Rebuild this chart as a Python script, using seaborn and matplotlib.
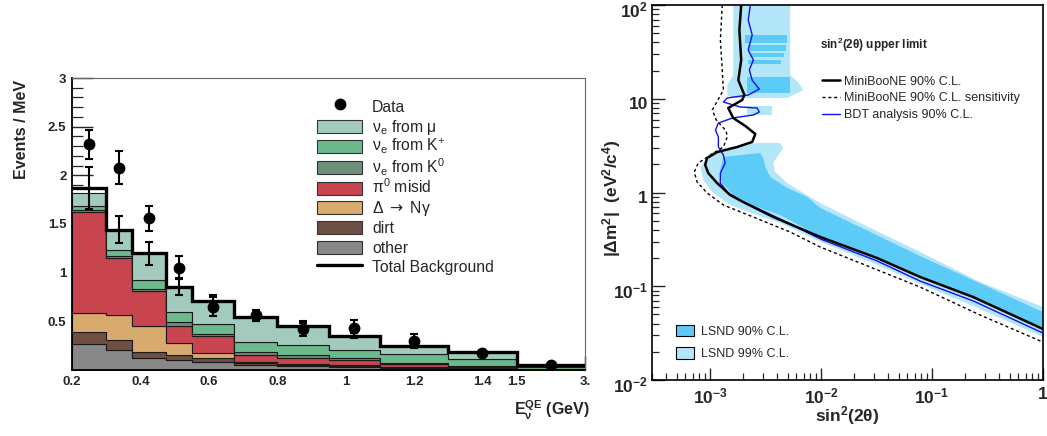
import numpy as np
import pandas as pd
import matplotlib
matplotlib.use("Agg")
import matplotlib.pyplot as plt
import matplotlib.transforms as mtransforms
import seaborn as sns
from matplotlib.lines import Line2D
from matplotlib.patches import Patch, Rectangle
from matplotlib.legend_handler import HandlerPatch
from matplotlib.ticker import FixedLocator, LogLocator, NullFormatter

sns.set_style("ticks")
plt.rcParams['font.family'] = ['Liberation Sans', 'DejaVu Sans']
plt.rcParams['mathtext.fontset'] = 'custom'
plt.rcParams['mathtext.rm'] = 'Liberation Sans'
plt.rcParams['mathtext.it'] = 'Liberation Sans:italic'
plt.rcParams['mathtext.bf'] = 'Liberation Sans:bold'
plt.rcParams['mathtext.sf'] = 'DejaVu Sans'

# ---------------- left panel data ----------------
bin_edges = [0.2, 0.3, 0.375, 0.475, 0.55, 0.675, 0.8, 0.95, 1.1, 1.3, 1.5, 3.0]
data_vals = [2.32, 2.08, 1.56, 1.05, 0.65, 0.56, 0.425, 0.43, 0.30, 0.17, 0.054]
data_err = [0.15, 0.165, 0.13, 0.12, 0.10, 0.06, 0.08, 0.08, 0.07, 0.04, 0.015]
bkg_total = [1.87, 1.44, 1.20, 0.857, 0.713, 0.54, 0.452, 0.353, 0.25, 0.18, 0.05]
bkg_err = [0.215, 0.14, 0.12, 0.09, 0.06, 0.04, 0.03, 0.025, 0.02, 0.015, 0.005]

nue_mu = [0.14, 0.21, 0.28, 0.257, 0.243, 0.25, 0.192, 0.143, 0.083, 0.064, 0.010]
nue_kplus = [0.034, 0.06, 0.09, 0.11, 0.10, 0.11, 0.11, 0.085, 0.099, 0.076, 0.023]
nue_k0 = [0.026, 0.02, 0.017, 0.034, 0.02, 0.026, 0.03, 0.025, 0.010, 0.010, 0.004]
pi0_misid = [1.037, 0.584, 0.36, 0.175, 0.172, 0.068, 0.06, 0.052, 0.023, 0.010, 0.003]
delta_ngamma = [0.189, 0.256, 0.264, 0.127, 0.051, 0.017, 0.01, 0.006, 0.005, 0.002, 0.001]
dirt = [0.127, 0.104, 0.062, 0.051, 0.041, 0.019, 0.01, 0.007, 0.005, 0.003, 0.001]
other = [0.267, 0.206, 0.127, 0.103, 0.086, 0.05, 0.04, 0.035, 0.025, 0.015, 0.003]

comp_labels = [r"$\mathregular{\nu_e}$ from $\mathregular{\mu}$",
               r"$\mathregular{\nu_e}$ from $\mathregular{K^{+}}$",
               r"$\mathregular{\nu_e}$ from $\mathregular{K^{0}}$",
               r"$\mathregular{\pi^{0}}$ misid",
               r"Δ $\mathsf{\rightarrow}$ Nγ", "dirt", "other"]
comp_values = [nue_mu, nue_kplus, nue_k0, pi0_misid, delta_ngamma, dirt, other]
comp_colors = ["#a3cbbd", "#6cb98d", "#6e8f7a", "#c8444f", "#d8aa6e", "#6e4f41", "#888888"]

left_xticks = [0.2, 0.4, 0.6, 0.8, 1.0, 1.2, 1.4, 1.5, 3.0]
left_xticklabels = ["0.2", "0.4", "0.6", "0.8", "1", "1.2", "1.4", "1.5", "3."]
left_yticks = [0.5, 1.0, 1.5, 2.0, 2.5, 3.0]
left_yticklabels = ["0.5", "1", "1.5", "2", "2.5", "3"]

# ---------------- right panel data ----------------
mb_x = [1.91e-3, 1.84e-3, 1.91e-3, 1.80e-3, 2.04e-3, 1.95e-3, 1.46e-3, 1.62e-3, 2.08e-3, 2.56e-3,
        2.40e-3, 1.76e-3, 1.16e-3, 9.4e-4, 9.05e-4, 9.65e-4, 1.16e-3, 1.52e-3, 2.0e-3, 3.72e-3,
        0.0099, 0.0321, 0.0783, 0.2355, 1.0]
mb_y = [100, 54, 25.9, 15.8, 11.0, 9.7, 7.97, 6.23, 5.13, 4.21,
        3.46, 3.06, 2.70, 2.33, 1.97, 1.61, 1.26, 0.94, 0.79, 0.548,
        0.335, 0.2, 0.1256, 0.0767, 0.035]

sens_x = [1.29e-3, 1.24e-3, 1.29e-3, 1.32e-3, 1.19e-3, 1.05e-3, 1.14e-3, 1.40e-3, 1.43e-3, 1.32e-3,
          1.01e-3, 7.83e-4, 7.21e-4, 7.67e-4, 9.4e-4, 1.32e-3, 2.45e-3, 5.28e-3, 9.86e-3, 0.0783,
          0.272, 1.0]
sens_y = [100, 42.4, 20.3, 12.4, 9.9, 7.59, 5.93, 4.53, 3.91, 3.06,
          2.51, 2.06, 1.65, 1.29, 0.99, 0.736, 0.548, 0.379, 0.262, 0.098,
          0.0493, 0.0254]

bdt_x = [2.31e-3, 2.21e-3, 2.40e-3, 2.21e-3, 2.46e-3, 2.26e-3, 2.40e-3, 2.78e-3, 2.21e-3, 1.43e-3,
         1.32e-3, 1.87e-3, 2.67e-3, 2.78e-3, 2.46e-3, 1.59e-3, 1.19e-3, 1.12e-3, 1.19e-3, 1.19e-3,
         1.32e-3, 1.37e-3, 1.24e-3, 1.24e-3, 1.46e-3, 1.95e-3, 4.3e-3, 0.0099, 0.0321, 0.0783,
         0.2355, 1.0]
bdt_y = [100, 69.2, 47.9, 33.1, 25.9, 20.3, 15.8, 12.7, 10.96, 10.2,
         9.23, 8.17, 7.96, 7.22, 6.71, 6.23, 5.51, 4.64, 3.91, 3.06,
         2.51, 2.06, 1.61, 1.26, 0.99, 0.81, 0.521, 0.319, 0.186, 0.1137,
         0.0697, 0.0317]

lsnd99_x = [8.2e-4, 1.0e-3, 1.52e-3, 2.67e-3, 4.3e-3, 4.57e-3, 4.12e-3, 3.72e-3, 3.87e-3, 4.97e-3,
            6.92e-3, 9.86e-3, 0.0278, 0.0783, 0.272, 1.0, 1.0, 0.2355, 0.0834, 0.0321,
            0.0105, 4.3e-3, 2.67e-3, 1.52e-3, 1.07e-3, 8.7e-4]
lsnd99_y = [1.87, 2.64, 3.05, 3.37, 3.37, 2.98, 2.51, 2.07, 1.66, 1.26,
            0.989, 0.773, 0.418, 0.232, 0.111, 0.0601, 0.0288, 0.0615, 0.103, 0.169,
            0.289, 0.473, 0.575, 0.736, 0.989, 1.36]

lsnd90_x = [1.32e-3, 1.87e-3, 2.84e-3, 3.02e-3, 3.15e-3, 3.49e-3, 4.97e-3, 7.52e-3, 9.86e-3, 0.0783,
            1.0, 1.0, 0.2355, 0.0834, 0.0321, 0.0105, 4.3e-3, 2.67e-3, 1.62e-3, 1.29e-3, 1.238e-3]
lsnd90_y = [2.39, 2.51, 2.64, 2.33, 1.87, 1.46, 1.12, 0.895, 0.684, 0.21,
            0.0531, 0.0345, 0.075, 0.1225, 0.195, 0.327, 0.575, 0.70, 0.94, 1.26, 1.74]

lsnd99_hi_x = [1.62e-3, 5.28e-3, 5.28e-3, 6.24e-3, 6.92e-3, 5.0e-3, 1.62e-3, 1.43e-3, 1.43e-3, 1.62e-3]
lsnd99_hi_y = [100, 100, 17.9, 15.0, 12.4, 10.2, 10.2, 11.0, 14.0, 17.9]

lsnd99_patch_x = [2.17e-3, 3.64e-3]
lsnd99_patch_y = [6.71, 8.37]

stripe_ylo = [39.3, 32.3, 27.9, 23.5, 11.5]
stripe_yhi = [47.9, 37.4, 30.8, 25.9, 17.1]
stripe_xlo = [2.08e-3, 2.2e-3, 2.3e-3, 2.2e-3, 2.14e-3]
stripe_xhi = [4.97e-3, 4.8e-3, 4.6e-3, 4.4e-3, 5.28e-3]

right_xticks = [1e-3, 1e-2, 1e-1, 1.0]
right_xticklabels = [r"10$^\mathregular{-3}$", r"10$^\mathregular{-2}$", r"10$^\mathregular{-1}$", "1"]
right_yticks = [1e-2, 1e-1, 1.0, 10.0, 100.0]
right_yticklabels = [r"10$^\mathregular{-2}$", r"10$^\mathregular{-1}$", "1", "10", r"10$^\mathregular{2}$"]

LSND90_COLOR = "#5ccbf8"
LSND99_COLOR = "#b3e6f8"

# ---------------- figure ----------------
fig = plt.figure(figsize=(10.47, 4.36), dpi=100)
ax1 = fig.add_axes([0.0688, 0.1514, 0.49, 0.6697])
ax2 = fig.add_axes([0.6227, 0.1284, 0.3734, 0.8601])

# ======== left panel ========
edges = np.array(bin_edges)
centers = 0.5 * (edges[:-1] + edges[1:])
rows = []
for lab, vals in zip(comp_labels, comp_values):
    for c, v in zip(centers, vals):
        rows.append((c, v, lab))
df = pd.DataFrame(rows, columns=["E", "w", "comp"])
sns.histplot(data=df, x="E", weights="w", hue="comp", hue_order=comp_labels,
             palette=dict(zip(comp_labels, comp_colors)), bins=bin_edges,
             multiple="stack", element="step", fill=True, alpha=1,
             edgecolor="#1a1a1a", linewidth=0.8, legend=False, ax=ax1)
ax1.stairs(bkg_total, bin_edges, color="k", lw=2.4, baseline=None, zorder=5)
ax1.errorbar(centers, bkg_total, yerr=bkg_err, fmt="none", ecolor="k",
             elinewidth=1.5, capsize=3, capthick=1.5, zorder=6)
ax1.errorbar(centers, data_vals, yerr=data_err, fmt="o", color="k", ms=7.5,
             elinewidth=1.5, capsize=3, capthick=1.5, zorder=7)


def _fwd(x):
    x = np.asarray(x, dtype=float)
    return np.where(x <= 1.5, x, 1.5 + (x - 1.5) * (0.2 / 1.5))


def _inv(u):
    u = np.asarray(u, dtype=float)
    return np.where(u <= 1.5, u, 1.5 + (u - 1.5) * 7.5)


ax1.set_xscale("function", functions=(_fwd, _inv))
ax1.set_xlim(0.2, 3.0)
ax1.set_ylim(0, 3)
ax1.set_xticks(left_xticks, labels=left_xticklabels, fontsize=9.5, fontweight="bold")
ax1.set_yticks(left_yticks, labels=left_yticklabels, fontsize=9.5, fontweight="bold")
ax1.xaxis.set_minor_locator(FixedLocator(list(np.arange(0.233, 1.5, 0.0333)) + [2.25]))
ax1.yaxis.set_minor_locator(FixedLocator(np.arange(0.1, 3.0, 0.1)))
ax1.tick_params(axis="both", which="major", direction="in", length=10, width=1.0, pad=4)
ax1.tick_params(axis="y", which="major", length=15)
ax1.tick_params(axis="both", which="minor", direction="in", length=5, width=0.9)
ax1.tick_params(axis="y", which="minor", length=8)
ax1.tick_params(top=False, right=False, which="both")
for s in ["left", "bottom"]:
    ax1.spines[s].set_linewidth(1.3)
    ax1.spines[s].set_color("k")
for s in ["top", "right"]:
    ax1.spines[s].set_visible(True)
    ax1.spines[s].set_linewidth(0.8)
    ax1.spines[s].set_color("#666666")
ax1.set_xlabel("")
ax1.set_ylabel("")
fig.text(22 / 1047, 1 - 80 / 436, "Events / MeV", rotation=90, ha="center", va="top",
         fontsize=11.5, fontweight="bold")
fig.text(590 / 1047, 1 - 410 / 436, r"E$_\mathregular{\nu}^\mathregular{QE}$ (GeV)",
         ha="right", va="center", fontsize=11.5, fontweight="bold")


def _small_rect(legend, orig_handle, xdescent, ydescent, width, height, fontsize):
    h = 0.83 * fontsize
    return Rectangle((-xdescent, -ydescent + (height - h) / 2.0), width, h)


handles1 = [Line2D([], [], marker="o", color="k", ls="none", ms=7.5)]
handles1 += [Patch(facecolor=c, edgecolor="#333333", lw=0.8) for c in comp_colors]
handles1 += [Line2D([], [], color="k", lw=2.4)]
labels1 = ["Data"] + comp_labels + ["Total Background"]
ax1.legend(handles1, labels1, loc="upper left", bbox_to_anchor=(0.478, 0.935),
           frameon=False, fontsize=11.3, handlelength=2.85, handleheight=1.55,
           handletextpad=0.65, labelspacing=0.0, borderaxespad=0, borderpad=0,
           handler_map={Patch: HandlerPatch(patch_func=_small_rect)})

# ======== right panel ========
ax2.fill(lsnd99_x, lsnd99_y, color=LSND99_COLOR, lw=0, zorder=1)
ax2.fill(lsnd99_hi_x, lsnd99_hi_y, color=LSND99_COLOR, lw=0, zorder=1)
ax2.fill_between(lsnd99_patch_x, lsnd99_patch_y[0], lsnd99_patch_y[1],
                 color=LSND99_COLOR, lw=0, zorder=1)
ax2.fill(lsnd90_x, lsnd90_y, color=LSND90_COLOR, lw=0, zorder=2)
for ylo, yhi, xlo, xhi in zip(stripe_ylo, stripe_yhi, stripe_xlo, stripe_xhi):
    ax2.fill_between([xlo, xhi], ylo, yhi, color=LSND90_COLOR, lw=0, zorder=2)

sns.lineplot(x=sens_x, y=sens_y, sort=False, estimator=None, color="k", lw=1.0,
             linestyle=(0, (2.2, 2.0)), ax=ax2, zorder=3)
sns.lineplot(x=bdt_x, y=bdt_y, sort=False, estimator=None, color="#1010ee", lw=1.0,
             ax=ax2, zorder=4)
sns.lineplot(x=mb_x, y=mb_y, sort=False, estimator=None, color="k", lw=1.8,
             ax=ax2, zorder=5)

ax2.set_xscale("log")
ax2.set_yscale("log")
ax2.set_xlim(3e-4, 1.0)
ax2.set_ylim(1e-2, 1e2)
ax2.set_xticks(right_xticks, labels=right_xticklabels, fontsize=12.5, fontweight="bold")
ax2.set_yticks(right_yticks, labels=right_yticklabels, fontsize=12.5, fontweight="bold")
ax2.xaxis.set_minor_locator(LogLocator(base=10, subs=np.arange(2, 10)))
ax2.yaxis.set_minor_locator(LogLocator(base=10, subs=np.arange(2, 10)))
ax2.xaxis.set_minor_formatter(NullFormatter())
ax2.yaxis.set_minor_formatter(NullFormatter())
ax2.tick_params(axis="both", which="major", direction="in", length=9, width=1.0, pad=3)
ax2.tick_params(axis="x", which="major", pad=5)
ax2.tick_params(axis="both", which="minor", direction="in", length=5, width=0.9)
ax2.tick_params(top=False, right=False, which="both")
_off = mtransforms.ScaledTranslation(0, -3 / 72, fig.dpi_scale_trans)
for _lab in ax2.get_yticklabels():
    _lab.set_transform(_lab.get_transform() + _off)
for s in ax2.spines.values():
    s.set_visible(True)
    s.set_linewidth(1.2)
    s.set_color("k")
ax2.set_xlabel("")
ax2.set_ylabel("")
fig.text(847 / 1047, 1 - 416 / 436, r"sin$^\mathregular{2}$(2θ)", ha="center", va="center",
         fontsize=12.5, fontweight="bold")
fig.text(612 / 1047, 1 - 198 / 436, r"|Δm$^\mathregular{2}$|  (eV$^\mathregular{2}$/c$^\mathregular{4}$)",
         rotation=90, ha="center", va="center", fontsize=12.5, fontweight="bold")

ax2.text(0.43, 0.893, r"sin$^\mathregular{2}$(2θ) upper limit", transform=ax2.transAxes,
         ha="left", va="center", fontsize=8.5, fontweight="bold")
handles2 = [Line2D([], [], color="k", lw=1.8),
            Line2D([], [], color="k", lw=1.0, ls=(0, (2.2, 2.0))),
            Line2D([], [], color="#1010ee", lw=1.0)]
labels2 = ["MiniBooNE 90% C.L.", "MiniBooNE 90% C.L. sensitivity", "BDT analysis 90% C.L."]
leg2 = ax2.legend(handles2, labels2, loc="upper left", bbox_to_anchor=(0.435, 0.812),
                  frameon=False, fontsize=9, handlelength=1.45, handletextpad=0.3,
                  labelspacing=0.38, borderaxespad=0, borderpad=0)
ax2.add_artist(leg2)
handles3 = [Patch(facecolor=LSND90_COLOR, edgecolor="k", lw=0.8),
            Patch(facecolor=LSND99_COLOR, edgecolor="k", lw=0.8)]
ax2.legend(handles3, ["LSND 90% C.L.", "LSND 99% C.L."], loc="lower left",
           bbox_to_anchor=(0.061, 0.053), frameon=False, fontsize=9,
           handlelength=1.45, handleheight=1.05, handletextpad=0.6,
           labelspacing=0.75, borderaxespad=0, borderpad=0)

fig.savefig("out.png", dpi=100)
